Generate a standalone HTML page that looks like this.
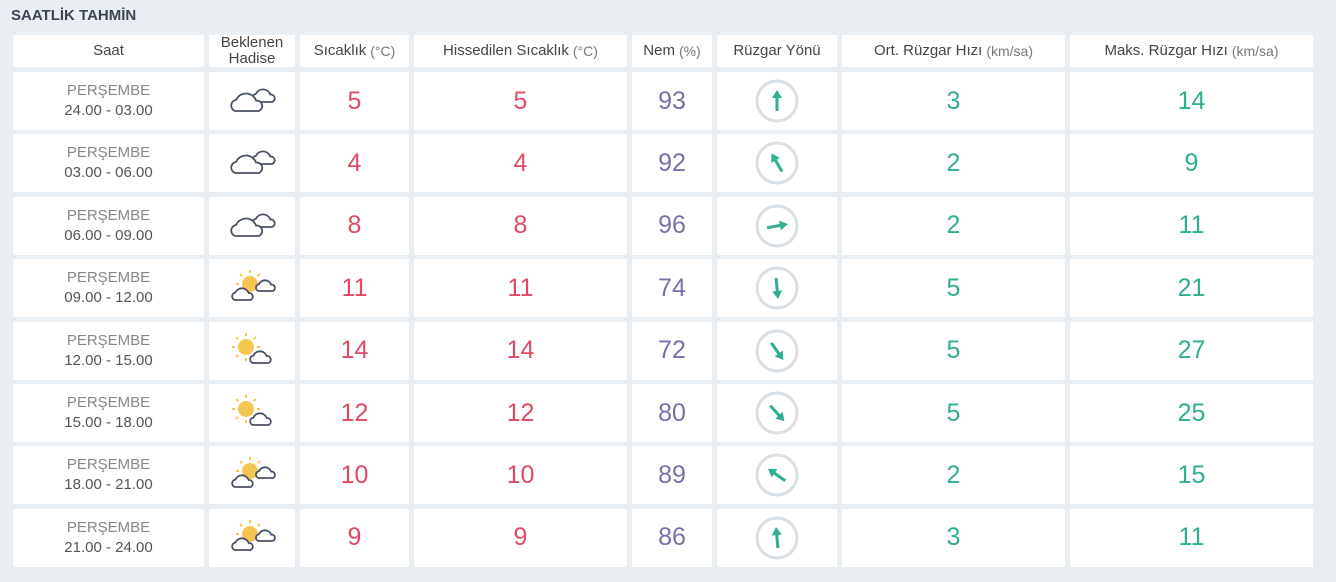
<!DOCTYPE html><html><head><meta charset="utf-8"><style>
body{margin:0;width:1336px;height:582px;background:#e8eef2;font-family:"Liberation Sans",sans-serif;position:relative;overflow:hidden}
.t{position:absolute;left:11px;top:7px;font-weight:bold;font-size:15px;color:#3d4451}
.c{position:absolute;background:#fff;display:flex;align-items:center;justify-content:center;text-align:center;color:#3d4451}
.h{font-size:15px;line-height:16px;color:#444}
.h small{font-size:14px;color:#777;margin-left:4px}
.s{font-size:15px;line-height:20px;color:#555}
.s span{color:#888}
.r{font-size:25px;color:#e04a62}
.n{font-size:25px;color:#7a6fa8}
.g{font-size:25px;color:#2fae92}
</style></head><body>
<div class="t">SAATLİK TAHMİN</div>
<div id="w"></div>
<script>
const X=[[13,204],[209,295],[300,409],[414,627],[632,712],[717,837],[842,1065],[1070,1313]];
const H=['Saat','Beklenen<br>Hadise','Sıcaklık<small>(°C)</small>','Hissedilen Sıcaklık<small>(°C)</small>','Nem<small>(%)</small>','Rüzgar Yönü','Ort. Rüzgar Hızı<small>(km/sa)</small>','Maks. Rüzgar Hızı<small>(km/sa)</small>'];
const D=[['24.00 - 03.00',0,5,93,0,3,14],['03.00 - 06.00',0,4,92,-30,2,9],['06.00 - 09.00',0,8,96,80,2,11],['09.00 - 12.00',1,11,74,175,5,21],['12.00 - 15.00',2,14,72,145,5,27],['15.00 - 18.00',2,12,80,138,5,25],['18.00 - 21.00',1,10,89,-55,2,15],['21.00 - 24.00',1,9,86,-5,3,11]];
function cl(x,y,w){const h=w*0.5;return `<path d="M${x+h*0.4} ${y+h} A${h*0.32} ${h*0.32} 0 0 1 ${x+h*0.45} ${y+h*0.38} A${w*0.3} ${w*0.3} 0 0 1 ${x+w*0.78} ${y+h*0.42} A${h*0.3} ${h*0.3} 0 0 1 ${x+w-h*0.3} ${y+h} Z" fill="#fff" stroke="#4a5166" stroke-width="1.8"/>`}
function sun(cx,cy,r,rays){let s='<g stroke="#f7c651" stroke-width="2">';rays.forEach(d=>{let a=d*Math.PI/180;s+=`<line x1="${cx+Math.cos(a)*(r+3)}" y1="${cy+Math.sin(a)*(r+3)}" x2="${cx+Math.cos(a)*(r+6)}" y2="${cy+Math.sin(a)*(r+6)}"/>`});return s+`</g><circle cx="${cx}" cy="${cy}" r="${r}" fill="#f7c651"/>`}
function icon(t){let s='<svg width="52" height="40" viewBox="0 0 52 40">';
if(t==0)s+=cl(24,8,26)+cl(2,12,36);
else if(t==1)s+=sun(24,16,8,[180,225,270,315,0])+cl(28,12,22)+cl(4,20,24);
else s+=sun(20,16,8,[90,135,180,225,270,315,0])+cl(22,20,24);
return s+'</svg>'}
function arrow(a){return `<svg width="46" height="46" viewBox="0 0 46 46"><circle cx="23" cy="23" r="20" fill="#fff" stroke="#d8dfe5" stroke-width="3"/><g transform="rotate(${a} 23 23)"><line x1="23" y1="33" x2="23" y2="18" stroke="#2fae92" stroke-width="3"/><polygon points="23,12 18,20 28,20" fill="#2fae92"/></g></svg>`}
let h='';
H.forEach((t,i)=>{h+=`<div class="c h" style="left:${X[i][0]}px;width:${X[i][1]-X[i][0]}px;top:35px;height:32px">${t}</div>`});
D.forEach((d,r)=>{let y=72+r*62.4,ht=58;
const v=[`<div class="s"><span>PERŞEMBE</span><br>${d[0]}</div>`,icon(d[1]),d[2],d[2],d[3],arrow(d[4]),d[5],d[6]];
const c=['','','r','r','n','','g','g'];
v.forEach((t,i)=>{h+=`<div class="c ${c[i]}" style="left:${X[i][0]}px;width:${X[i][1]-X[i][0]}px;top:${y}px;height:${ht}px">${t}</div>`})});
document.getElementById('w').innerHTML=h;
</script>
</body></html>
